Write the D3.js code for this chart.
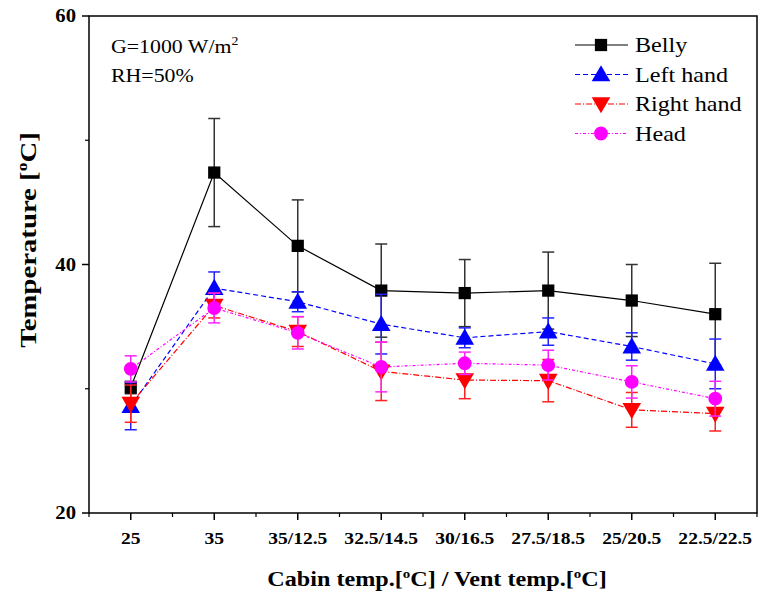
<!DOCTYPE html>
<html>
<head>
<meta charset="utf-8">
<script src="https://cdn.jsdelivr.net/npm/d3@7"></script>
<style>
  body { margin: 0; background: #fff; }
  svg { display: block; font-family: "Liberation Serif", "Times New Roman", serif; }
</style>
</head>
<body>
<svg id="chart" width="760" height="594"></svg>
<script>
// categories on the x axis
var categories = ["25", "35", "35/12.5", "32.5/14.5", "30/16.5", "27.5/18.5", "25/20.5", "22.5/22.5"];

// mean temperatures and error (+/-)
var bellyVals = [30.1, 47.4, 41.5, 37.9, 37.7, 37.9, 37.1, 36.0];
var bellyErr  = [0.5, 4.35, 3.7, 3.75, 2.7, 3.1, 2.9, 4.1];
var leftVals  = [28.6, 38.1, 37.0, 35.2, 34.1, 34.6, 33.4, 32.0];
var leftErr   = [1.9, 1.3, 0.8, 2.4, 0.8, 1.1, 1.1, 2.0];
var rightVals = [28.8, 36.7, 34.6, 31.4, 30.7, 30.65, 28.3, 28.0];
var rightErr  = [1.5, 1.0, 1.2, 2.35, 1.5, 1.7, 1.4, 1.4];
var headVals  = [31.6, 36.5, 34.5, 31.75, 32.05, 31.9, 30.55, 29.2];
var headErr   = [1.05, 1.2, 1.3, 2.0, 0.9, 1.2, 1.3, 1.4];

var yTicks = [20, 40, 60];
var yMinor = [30, 50];

var series = [
  {name: "Belly", vals: bellyVals, err: bellyErr, color: "#000000", errColor: "#333333", dash: null, symbol: d3.symbolSquare, size: 150, rot: 0},
  {name: "Left hand", vals: leftVals, err: leftErr, color: "#0000ff", errColor: "#2222ff", dash: "5,3", symbol: d3.symbolTriangle, size: 150, rot: 0},
  {name: "Right hand", vals: rightVals, err: rightErr, color: "#ff0000", errColor: "#ff2222", dash: "6,2,1,2", symbol: d3.symbolTriangle, size: 150, rot: 180},
  {name: "Head", vals: headVals, err: headErr, color: "#ff00ff", errColor: "#ff22ff", dash: "3,2,1,2", symbol: d3.symbolCircle, size: 150, rot: 0}
];

var svg = d3.select("#chart");
var plotL = 89, plotR = 757, plotT = 16, plotB = 513;
var SX = 1.15; // the reference's type is slightly wide

var x = d3.scaleLinear().domain([-0.5, categories.length - 0.5]).range([plotL, plotR]);
var y = d3.scaleLinear().domain([20, 60]).range([plotB, plotT]);

// text placed with a small horizontal stretch
function label(parent, px, py, anchor, size, weight) {
  return parent.append("text")
    .attr("transform", "translate(" + px + "," + py + ") scale(" + SX + ",1)")
    .attr("text-anchor", anchor)
    .style("font-size", size + "px")
    .style("font-weight", weight || "normal");
}

// frame
svg.append("rect")
  .attr("x", plotL).attr("y", plotT)
  .attr("width", plotR - plotL).attr("height", plotB - plotT)
  .attr("fill", "none").attr("stroke", "#000").attr("stroke-width", 1.5);

// x axis
var xAxis = svg.append("g").attr("transform", "translate(0," + plotB + ")");
xAxis.selectAll("line.major").data(categories).enter().append("line")
  .attr("x1", function(d, i) { return x(i); }).attr("x2", function(d, i) { return x(i); })
  .attr("y1", 0).attr("y2", 7).attr("stroke", "#000").attr("stroke-width", 1.5);
xAxis.selectAll("line.minor").data(d3.range(categories.length + 1)).enter().append("line")
  .attr("x1", function(d) { return x(d - 0.5); }).attr("x2", function(d) { return x(d - 0.5); })
  .attr("y1", 0).attr("y2", 4).attr("stroke", "#000").attr("stroke-width", 1.2);
categories.forEach(function(c, i) {
  label(svg, x(i), plotB + 31, "middle", 17, "bold").text(c);
});

// y axis
var yAxis = svg.append("g").attr("transform", "translate(" + plotL + ",0)");
yAxis.selectAll("line.major").data(yTicks).enter().append("line")
  .attr("x1", -7).attr("x2", 0)
  .attr("y1", function(d) { return y(d); }).attr("y2", function(d) { return y(d); })
  .attr("stroke", "#000").attr("stroke-width", 1.5);
yAxis.selectAll("line.minor").data(yMinor).enter().append("line")
  .attr("x1", -4).attr("x2", 0)
  .attr("y1", function(d) { return y(d); }).attr("y2", function(d) { return y(d); })
  .attr("stroke", "#000").attr("stroke-width", 1.2);
yTicks.forEach(function(t) {
  label(svg, plotL - 13, y(t) + 6, "end", 18, "bold").text(t);
});

// axis titles
var xt = label(svg, 437, 586, "middle", 21, "bold");
xt.append("tspan").text("Cabin temp.[");
xt.append("tspan").attr("dy", -8).style("font-size", "13px").text("o");
xt.append("tspan").attr("dy", 8).text("C] / Vent temp.[");
xt.append("tspan").attr("dy", -8).style("font-size", "13px").text("o");
xt.append("tspan").attr("dy", 8).text("C]");

var yt = svg.append("text").attr("transform", "translate(36,240) rotate(-90) scale(1.25,1)")
  .attr("text-anchor", "middle")
  .style("font-size", "23px").style("font-weight", "bold");
yt.append("tspan").text("Temperature [");
yt.append("tspan").attr("dy", -9).style("font-size", "14px").text("o");
yt.append("tspan").attr("dy", 9).text("C]");

// series
var line = d3.line().x(function(d, i) { return x(i); }).y(function(d) { return y(d); });

function markerShift(s) {
  return s.symbol === d3.symbolTriangle ? (s.rot ? -1.5 : 1.5) : 0;
}

series.forEach(function(s) {
  var g = svg.append("g");
  g.append("path").datum(s.vals)
    .attr("d", line).attr("fill", "none")
    .attr("stroke", s.color).attr("stroke-width", 1.2)
    .attr("stroke-dasharray", s.dash);
  // error bars
  var eb = g.selectAll("g.err").data(s.vals).enter().append("g");
  eb.append("line")
    .attr("x1", function(d, i) { return x(i); }).attr("x2", function(d, i) { return x(i); })
    .attr("y1", function(d, i) { return y(d - s.err[i]); })
    .attr("y2", function(d, i) { return y(d + s.err[i]); })
    .attr("stroke", s.errColor).attr("stroke-width", 1.5);
  [-1, 1].forEach(function(sign) {
    eb.append("line")
      .attr("x1", function(d, i) { return x(i) - 6; }).attr("x2", function(d, i) { return x(i) + 6; })
      .attr("y1", function(d, i) { return y(d + sign * s.err[i]); })
      .attr("y2", function(d, i) { return y(d + sign * s.err[i]); })
      .attr("stroke", s.errColor).attr("stroke-width", 1.5);
  });
  // markers
  g.selectAll("path.mk").data(s.vals).enter().append("path")
    .attr("d", d3.symbol().type(s.symbol).size(s.size))
    .attr("transform", function(d, i) {
      return "translate(" + x(i) + "," + (y(d) + markerShift(s)) + ") rotate(" + s.rot + ")";
    })
    .attr("fill", s.color);
});

// annotation
var a1 = label(svg, 111, 53, "start", 19);
a1.append("tspan").text("G=1000 W/m");
a1.append("tspan").attr("dy", -8).style("font-size", "12px").text("2");
label(svg, 111, 82, "start", 19).text("RH=50%");

// legend
var leg = svg.append("g");
series.forEach(function(s, k) {
  var ly = 45 + k * 29.5;
  leg.append("line").attr("x1", 575).attr("x2", 628).attr("y1", ly).attr("y2", ly)
    .attr("stroke", s.color).attr("stroke-width", 1.2).attr("stroke-dasharray", s.dash);
  leg.append("path")
    .attr("d", d3.symbol().type(s.symbol).size(s.size))
    .attr("transform", "translate(601," + (ly + markerShift(s)) + ") rotate(" + s.rot + ")")
    .attr("fill", s.color);
  label(leg, 635, ly + 7, "start", 21).text(s.name);
});
</script>
</body>
</html>
